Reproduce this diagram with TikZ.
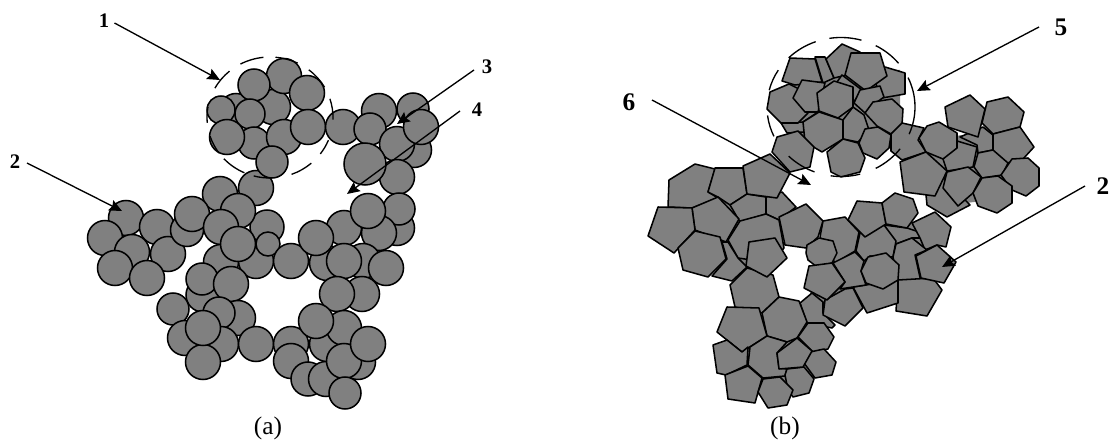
\documentclass[tikz,border=0pt]{standalone}
\usepackage{fontspec}
\setmainfont{Liberation Serif}
\usetikzlibrary{arrows.meta}
\definecolor{grainGray}{RGB}{128,128,128}
\tikzset{
  grain/.style={draw=black,fill=grainGray,line width=1.15pt,line join=round},
  filler/.style={fill=grainGray},
  ring/.style={draw=black,line width=1pt},
  ptr/.style={draw=black,line width=1pt,-{Stealth[length=9.5pt,width=8.5pt,inset=1.5pt]}},
  numA/.style={font=\bfseries\fontsize{15.5}{15.5}\selectfont,inner sep=0pt},
  numB/.style={font=\bfseries\fontsize{19}{19}\selectfont,inner sep=0pt},
  captext/.style={font=\fontsize{19}{19}\selectfont,inner sep=0pt}
}
\newcommand{\grains}[1]{\foreach \cx/\cy/\cr in {#1}{\draw[grain] (\cx,\cy) circle[radius=\cr];}}
\newcommand{\ringarcs}[5]{\foreach \a/\b in {#5}{\draw[ring] ({#1+#3*cos(\a)},{#2+#4*sin(\a)}) arc[start angle=\a,end angle=\b,x radius=#3,y radius=#4];}}
\begin{document}
\begin{tikzpicture}[x=0.75pt,y=-0.75pt]
\useasboundingbox (0,0) rectangle (1110,442);
% ---------- (a) circles, back to front
\grains{236/110/16.5,273/107/17.5,284/76/17.5,307/93/17.5,254/85/16,221/110/14,250/114/15,
254/143/16,284/137/17.5,308/127/17.5,227/137/17.5,256/188/17.5,272/162/16,220/194/17.5,
126/218/17.5,157/227/17.5,105/238/17.5,132/252/17.5,168/254/17.5,115/268/17.5,147/278/17.5,
187/230/16.5,192/214/17.5,267/227/17,238/211/17.5,221/227/17.5,221/262/17.5,256/261/17.5,238/244/17.5,268/244/12,291/261/17.5,
343/127/17.5,379/111/17.5,413/109/16,370/129/16,414/150/17.5,397/144/17.5,421/127/17.5,397/177/17.5,365/164/21,
397/228/17.5,399/209/16,344/228/17.5,379/233/17.5,368/211/17.5,327/263/17.5,316/238/17.5,363/261/17.5,344/261/17.5,386/268/17.5,
362/294/17.5,337/294/17.5,
203/295/17,202/279/16,231/284/17.5,173/309/16,238/318/17.5,219/313/16,221/344/17.5,185/338/17.5,203/362/17.5,203/328/17.5,
256/344/17.5,291/344/17.5,291/361/17.5,308/379/17,326/379/17.5,327/344/17.5,358/362/17.5,344/328/17.5,316/321/17.5,344/361/17.5,368/344/17.5,345/393/16}
% ---------- (b) body tone under the grains
\fill[filler] (790,70)--(900,70)--(900,125)--(880,150)--(822,148)--(790,128)--cycle;
\fill[filler] (925,140)--(1000,130)--(1025,150)--(1020,180)--(990,200)--(950,205)--(920,185)--cycle;
\fill[filler] (815,245)--(855,225)--(900,215)--(930,235)--(940,270)--(925,300)--(890,305)--(850,300)--(825,305)--(812,308)--(810,295)--cycle;
\fill[filler] (680,185)--(760,175)--(780,210)--(782,245)--(772,272)--(735,278)--(712,268)--(670,240)--cycle;
\fill[filler] (745,320)--(790,320)--(812,330)--(825,345)--(825,365)--(805,390)--(770,400)--(735,385)--(730,350)--cycle;
% ---------- (b) polygons, back to front
\draw[grain] (815,57)--(825,57)--(834,78)--(823,83)--cycle;
\draw[grain] (790,58)--(815,59)--(822,82)--(795,85)--(782,81)--cycle;
\draw[grain] (842,44)--(860,52)--(847,75)--(834,78)--(826,59)--cycle;
\draw[grain] (885,67)--(905,73)--(905,94)--(882,98)--(875,82)--cycle;
\draw[grain] (842,75)--(862,90)--(853,103)--(837,82)--cycle;
\draw[grain] (851,53)--(880,53)--(887,76)--(866,91)--(845,75)--cycle;
\draw[grain] (860,90)--(880,86)--(884,97)--(873,105)--(865,113)--(854,103)--cycle;
\draw[grain] (781,123)--(803,122)--(818,112)--(805,132)--(787,133)--cycle;
\draw[grain] (789,84)--(805,92)--(808,113)--(798,123)--(781,123)--(767,109)--(770,92)--cycle;
\draw[grain] (802,80)--(825,83)--(818,112)--(805,112)--(793,98)--cycle;
\draw[grain] (853,107)--(864,115)--(869,130)--(858,142)--(843,139)--(843,120)--cycle;
\draw[grain] (834,81)--(853,87)--(853,107)--(838,118)--(819,111)--(817,93)--cycle;
\draw[grain] (819,112)--(843,120)--(843,139)--(822,152)--(805,142)--(803,122)--cycle;
\draw[grain] (873,102)--(892,99)--(903,109)--(902,125)--(891,134)--(877,126)--(865,113)--cycle;
\draw[grain] (827,152)--(843,139)--(858,143)--(865,158)--(860,172)--(841,177)--(831,172)--cycle;
\draw[grain] (859,143)--(865,129)--(878,127)--(891,135)--(889,148)--(877,159)--(863,153)--cycle;
\draw[grain] (772,152)--(777,137)--(798,131)--(814,147)--(810,167)--(790,172)--cycle;
\draw[grain] (891,134)--(902,123)--(924,128)--(918,140)--(926,152)--(902,160)--(891,151)--cycle;
\draw[grain] (960,137)--(983,127)--(993,135)--(993,150)--(978,153)--(977,145)--cycle;
\draw[grain] (945,107)--(970,95)--(985,109)--(978,137)--(948,127)--cycle;
\draw[grain] (982,123)--(987,102)--(1008,97)--(1024,112)--(1020,127)--(993,134)--cycle;
\draw[grain] (993,134)--(1020,127)--(1034,147)--(1023,159)--(1007,163)--(993,152)--cycle;
\draw[grain] (974,167)--(978,153)--(993,150)--(1008,163)--(1002,175)--(982,178)--cycle;
\draw[grain] (1001,175)--(1012,159)--(1028,158)--(1039,168)--(1039,186)--(1026,196)--(1012,190)--cycle;
\draw[grain] (943,159)--(957,141)--(977,147)--(973,167)--(947,171)--cycle;
\draw[grain] (919,138)--(927,126)--(939,122)--(957,133)--(957,148)--(943,159)--(926,152)--cycle;
\draw[grain] (926,195)--(943,177)--(970,205)--(947,217)--(927,205)--cycle;
\draw[grain] (926,152)--(947,171)--(935,196)--(904,192)--(900,162)--cycle;
\draw[grain] (943,188)--(947,172)--(968,167)--(981,177)--(973,193)--(958,206)--cycle;
\draw[grain] (973,193)--(982,178)--(998,176)--(1012,186)--(1012,203)--(997,213)--(978,206)--cycle;
% left wing
\draw[grain] (669,180)--(695,164)--(715,169)--(708,192)--(718,198)--(692,208)--(668,207)--cycle;
\draw[grain] (715,168)--(743,168)--(747,194)--(730,205)--(718,197)--(708,192)--cycle;
\draw[grain] (766,197)--(782,192)--(796,207)--(779,220)--(766,214)--cycle;
\draw[grain] (747,194)--(766,197)--(766,214)--(740,222)--(730,205)--cycle;
\draw[grain] (743,166)--(770,154)--(790,173)--(777,198)--(747,194)--cycle;
\draw[grain] (728,240)--(740,221)--(766,214)--(779,220)--(784,248)--(772,263)--(738,258)--cycle;
\draw[grain] (692,208)--(718,197)--(739,219)--(726,242)--(695,230)--cycle;
\draw[grain] (658,207)--(692,208)--(695,230)--(674,253)--(648,236)--cycle;
\draw[grain] (712,276)--(727,259)--(722,242)--(728,242)--(738,258)--(747,267)--(732,281)--cycle;
\draw[grain] (678,248)--(695,231)--(720,237)--(726,259)--(708,277)--(683,270)--cycle;
\draw[grain] (730,285)--(747,268)--(773,275)--(779,297)--(762,313)--(735,307)--cycle;
\draw[grain] (746,266)--(749,242)--(775,238)--(787,258)--(767,277)--cycle;
% centre and right of lower part
\draw[grain] (800,303)--(812,293)--(823,302)--(823,313)--(835,325)--(832,328)--(807,323)--cycle;
\draw[grain] (779,217)--(806,204)--(823,221)--(818,237)--(806,248)--(785,245)--cycle;
\draw[grain] (884,225)--(907,228)--(922,233)--(920,238)--(912,238)--(896,244)--cycle;
\draw[grain] (856,251)--(860,233)--(884,225)--(896,241)--(893,257)--(870,256)--(864,261)--cycle;
\draw[grain] (823,221)--(845,217)--(859,232)--(855,251)--(835,263)--(820,237)--cycle;
\draw[grain] (857,201)--(882,203)--(886,224)--(865,237)--(848,220)--cycle;
\draw[grain] (882,203)--(895,193)--(913,199)--(918,213)--(907,228)--(886,224)--cycle;
\draw[grain] (912,223)--(935,212)--(951,227)--(946,247)--(937,245)--(925,250)--(920,238)--cycle;
\draw[grain] (806,253)--(807,245)--(819,238)--(833,241)--(837,253)--(832,263)--(817,267)--(808,260)--cycle;
\draw[grain] (896,244)--(912,238)--(927,250)--(915,255)--(921,282)--(898,280)--(893,257)--cycle;
\draw[grain] (898,280)--(933,278)--(942,290)--(927,316)--(896,311)--cycle;
\draw[grain] (853,287)--(898,280)--(898,303)--(867,313)--cycle;
\draw[grain] (833,263)--(855,252)--(864,261)--(861,271)--(866,285)--(840,289)--(845,282)--cycle;
\draw[grain] (916,256)--(937,245)--(956,262)--(944,283)--(921,278)--cycle;
\draw[grain] (861,271)--(868,257)--(886,253)--(899,265)--(898,280)--(883,289)--(866,283)--cycle;
\draw[grain] (823,315)--(825,300)--(845,289)--(853,288)--(863,308)--(845,326)--cycle;
\draw[grain] (809,266)--(832,263)--(845,282)--(827,300)--(804,288)--cycle;
% bottom cluster
\draw[grain] (762,313)--(779,297)--(799,301)--(807,322)--(797,338)--(787,342)--(767,336)--cycle;
\draw[grain] (727,307)--(759,308)--(767,336)--(742,352)--(717,332)--cycle;
\draw[grain] (713,345)--(727,340)--(742,352)--(748,347)--(747,365)--(726,375)--(717,373)--cycle;
\draw[grain] (748,365)--(750,347)--(767,336)--(787,342)--(777,353)--(779,368)--(787,369)--(785,376)--(763,378)--cycle;
\draw[grain] (725,375)--(748,366)--(762,378)--(755,403)--(728,399)--cycle;
\draw[grain] (785,375)--(787,369)--(804,367)--(814,379)--(809,393)--(793,397)--(788,390)--cycle;
\draw[grain] (758,392)--(763,379)--(780,377)--(793,390)--(787,405)--(768,408)--cycle;
\draw[grain] (798,337)--(808,323)--(824,323)--(834,337)--(828,349)--(813,352)--cycle;
\draw[grain] (804,363)--(810,352)--(824,349)--(836,362)--(832,375)--(815,378)--cycle;
\draw[grain] (777,353)--(797,338)--(812,351)--(803,367)--(779,369)--cycle;
% ---------- dashed rings, each dash an arc
\ringarcs{270}{117.5}{63}{60.5}{209/230,242/264,275/296,308/330,342/362,22/37,49/70,88/105,114/137,144/162,175/190}
\ringarcs{841}{107}{74}{69.5}{155/173,194/212,225/250,261/286,298/321,335/383,37/62,75/98,111/135}
% ---------- labels
\node[numA] (n1) at (104,21) {1};
\node[numA] (n2a) at (15,162) {2};
\node[numA] (n3) at (487,67) {3};
\node[numA] (n4) at (477,110) {4};
\node[numB] (n5) at (1061,27) {5};
\node[numB] (n6) at (629,102) {6};
\node[numB] (n2b) at (1103,186) {2};
\node[captext] (ca) at (268,428) {(a)};
\node[captext] (cb) at (785,428) {(b)};
% ---------- pointers
\coordinate (t1) at (220,80);
\coordinate (t2a) at (122,211);
\coordinate (t3) at (397,124);
\coordinate (t4) at (347,194);
\coordinate (t5) at (917,91);
\coordinate (t6) at (811,185);
\coordinate (t2b) at (942,267);
\draw[ptr] (114.5,23) -- (t1);
\draw[ptr] (27,163) -- (t2a);
\draw[ptr] (474,70) -- (t3);
\draw[ptr] (460,111) -- (t4);
\draw[ptr] (1039,27) -- (t5);
\draw[ptr] (652,100) -- (t6);
\draw[ptr] (1085,186) -- (t2b);
\end{tikzpicture}
\end{document}
